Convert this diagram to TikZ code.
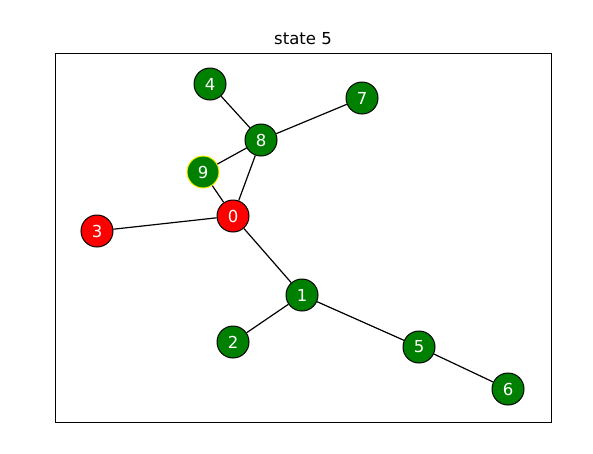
\documentclass[tikz,border=0pt]{standalone}
\usepackage{fontspec}
\setmainfont{DejaVu Sans}
\usetikzlibrary{positioning}

\definecolor{nodegreen}{RGB}{0,128,0}

\begin{document}
\begin{tikzpicture}[x=1pt, y=-1pt,
    state_node/.style={circle,draw=black,line width=1pt,minimum size=32pt,inner sep=0pt,text=white,font=\fontsize{16.5}{18}\selectfont},
    good/.style={state_node,fill=nodegreen},
    bad/.style={state_node,fill=red},
    edge_line/.style={line width=1.2pt}]

    \useasboundingbox (0,0) rectangle (593,453);
    \draw[line width=1pt] (55,53) rectangle (551,422);
    \node[font=\fontsize{16.5}{18}\selectfont] (title) at (303,39) {state 5};

    \node[bad]  (0) at (233,216) {0};
    \node[good] (1) at (302,295) {1};
    \node[good] (2) at (233,342) {2};
    \node[bad]  (3) at (97,231)  {3};
    \node[good] (4) at (210,84)  {4};
    \node[good] (5) at (419,347) {5};
    \node[good] (6) at (508,389) {6};
    \node[good] (7) at (362,98)  {7};
    \node[good] (8) at (261,140) {8};
    \node[good, draw=yellow] (9) at (203,172) {9};

    \draw[edge_line] (4) -- (8) -- (7);
    \draw[edge_line] (9) -- (8) -- (0);
    \draw[edge_line] (9) -- (0) -- (3);
    \draw[edge_line] (0) -- (1) -- (2);
    \draw[edge_line] (1) -- (5) -- (6);
\end{tikzpicture}
\end{document}
